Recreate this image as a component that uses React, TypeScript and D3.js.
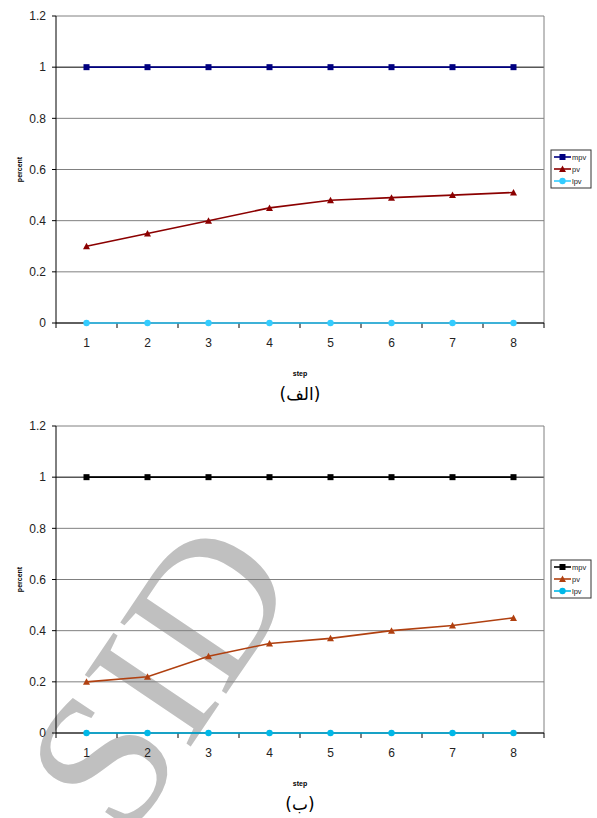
import React from 'react';
import * as d3 from 'd3';

const steps = [1, 2, 3, 4, 5, 6, 7, 8];
const yTicks = [0, 0.2, 0.4, 0.6, 0.8, 1, 1.2];
const seriesNames = ['mpv', 'pv', 'lpv'];

const mpvA = [1, 1, 1, 1, 1, 1, 1, 1];
const pvA = [0.3, 0.35, 0.4, 0.45, 0.48, 0.49, 0.5, 0.51];
const lpvA = [0, 0, 0, 0, 0, 0, 0, 0];

const mpvB = [1, 1, 1, 1, 1, 1, 1, 1];
const pvB = [0.2, 0.22, 0.3, 0.35, 0.37, 0.4, 0.42, 0.45];
const lpvB = [0, 0, 0, 0, 0, 0, 0, 0];

const colorsA = ['#000080', '#8b0000', '#33ccff'];
const colorsB = ['#000000', '#b04010', '#00b8e8'];
const markers = ['square', 'triangle', 'circle'];

function Marker({ type, x, y, color }: { type: string; x: number; y: number; color: string }) {
  if (type === 'square') return <rect x={x - 3} y={y - 3} width={6} height={6} fill={color} />;
  if (type === 'triangle') return <path d={`M${x},${y - 3.5}L${x + 3.5},${y + 3}L${x - 3.5},${y + 3}Z`} fill={color} />;
  return <circle cx={x} cy={y} r={3.2} fill={color} />;
}

function Chart({ top, series, colors, caption }: { top: number; series: number[][]; colors: string[]; caption: string }) {
  const left = 56;
  const right = 544;
  const bottom = top + 307;
  const x = d3.scaleBand<number>().domain(steps).range([left, right]);
  const cx = (d: number) => (x(d) as number) + x.bandwidth() / 2;
  const y = d3.scaleLinear().domain([0, 1.2]).range([bottom, top]);
  const line = (vals: number[]) =>
    d3.line<number>().x((_, i) => cx(steps[i])).y(v => y(v))(vals) as string;
  const font = 'Liberation Sans, Arial, sans-serif';
  const legX = 551;
  const legY = top + 134;

  return (
    <g>
      {/* grid */}
      {yTicks.map(t => (
        <line key={t} x1={left} x2={right} y1={y(t)} y2={y(t)} stroke={t === 1 ? '#000' : '#808080'} strokeWidth={1} />
      ))}
      <line x1={right} x2={right} y1={top} y2={bottom} stroke="#808080" />
      {/* y axis */}
      <line x1={left} x2={left} y1={top} y2={bottom} stroke="#000" />
      {yTicks.map(t => (
        <g key={'yt' + t}>
          <line x1={left - 4} x2={left} y1={y(t)} y2={y(t)} stroke="#000" />
          <text x={left - 10} y={y(t)} dy="0.35em" textAnchor="end" fontSize={12} fontFamily={font} fill="#222">{t}</text>
        </g>
      ))}
      {/* x axis */}
      <line x1={left} x2={right} y1={bottom} y2={bottom} stroke="#000" />
      {[...steps.map(s => x(s) as number), right].map((p, i) => (
        <line key={'xt' + i} x1={p} x2={p} y1={bottom} y2={bottom + 5} stroke="#000" />
      ))}
      {steps.map(s => (
        <text key={'xl' + s} x={cx(s)} y={bottom + 24} textAnchor="middle" fontSize={12} fontFamily={font} fill="#222">{s}</text>
      ))}
      <text x={300} y={bottom + 53} textAnchor="middle" fontSize={7} fontWeight="bold" fontFamily={font}>step</text>
      <text transform={`translate(22,${(top + bottom) / 2}) rotate(-90)`} textAnchor="middle" fontSize={7} fontWeight="bold" fontFamily={font}>percent</text>
      {/* series */}
      {series.map((vals, si) => (
        <g key={'s' + si}>
          <path d={line(vals)} fill="none" stroke={colors[si]} strokeWidth={1.6} />
          {vals.map((v, i) => (
            <Marker key={i} type={markers[si]} x={cx(steps[i])} y={y(v)} color={colors[si]} />
          ))}
        </g>
      ))}
      {/* legend */}
      <rect x={legX} y={legY} width={40} height={38} fill="#fff" stroke="#333" strokeWidth={1} />
      {seriesNames.map((n, i) => (
        <g key={n}>
          <line x1={legX + 3} x2={legX + 20} y1={legY + 7 + i * 12} y2={legY + 7 + i * 12} stroke={colors[i]} strokeWidth={1.6} />
          <Marker type={markers[i]} x={legX + 11.5} y={legY + 7 + i * 12} color={colors[i]} />
          <text x={legX + 21} y={legY + 7 + i * 12} dy="0.35em" fontSize={7.5} fontFamily={font} fill="#222">{n}</text>
        </g>
      ))}
      <text x={300} y={bottom + 77} textAnchor="middle" fontSize={17} fontFamily="DejaVu Sans, Noto Sans, sans-serif" fill="#000">{caption}</text>
    </g>
  );
}

export default function App() {
  return (
    <svg width={597} height={818} style={{ position: 'absolute', left: 0, top: 0, background: '#fff' }}>
      <rect width={597} height={818} fill="#fff" />
      {/* watermark sits behind the charts */}
      <text
        transform="translate(214,712) rotate(-56)"
        textAnchor="middle"
        fontSize={195}
        fontFamily="Liberation Serif, DejaVu Serif, serif"
        fill="#c0c0c0"
      >SID</text>
      <Chart top={16} series={[mpvA, pvA, lpvA]} colors={colorsA} caption="(الف)" />
      <Chart top={426} series={[mpvB, pvB, lpvB]} colors={colorsB} caption="(ب)" />
    </svg>
  );
}
